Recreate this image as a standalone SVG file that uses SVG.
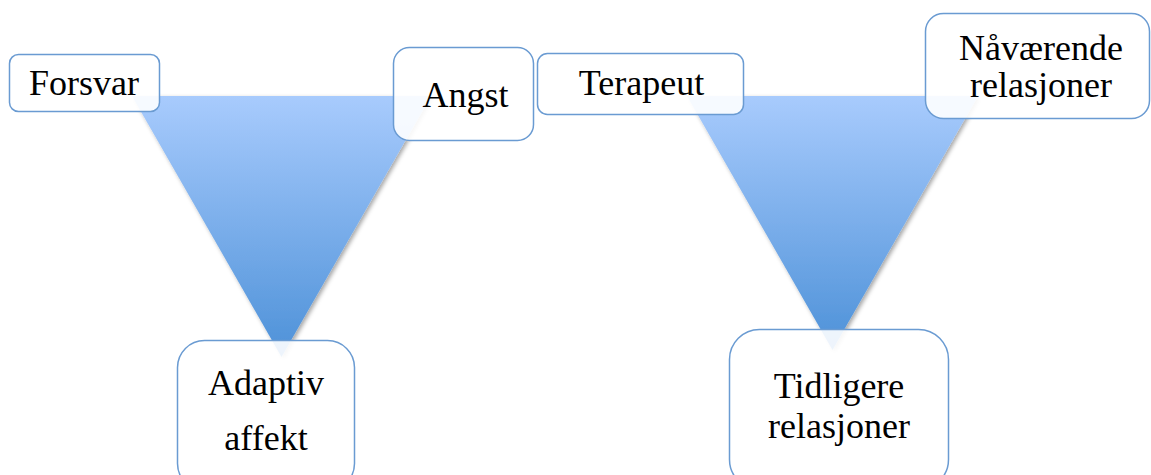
<svg xmlns="http://www.w3.org/2000/svg" width="1151" height="475" viewBox="0 0 1151 475">
  <defs>
    <linearGradient id="blueGrad" x1="0" y1="0" x2="0" y2="1">
      <stop offset="0" stop-color="#a8cbfd"/>
      <stop offset="1" stop-color="#4d91d8"/>
    </linearGradient>
    <filter id="shadow" x="-10%" y="-10%" width="120%" height="120%">
      <feDropShadow dx="2" dy="2" stdDeviation="2" flood-color="#000" flood-opacity="0.35"/>
    </filter>
  </defs>
  <style>
    .tri { fill: url(#blueGrad); filter: url(#shadow); }
    .box { fill: #ffffff; fill-opacity: 0.9; stroke: #6a9bd2; stroke-width: 1.5; }
    .lbl { font-size: 36px; fill: #000; text-anchor: middle; }
  </style>
  <rect width="1151" height="475" fill="#ffffff"/>

  <g id="connectors">
    <polygon class="tri" points="132,96 431,96 281.5,357"/>
    <polygon class="tri" points="687,96 978,96 832.5,350"/>
  </g>

  <g font-family="'Liberation Serif', 'DejaVu Serif', serif">
  <g id="node-forsvar">
    <rect class="box" x="9.5" y="54.5" width="150" height="57" rx="9"/>
    <text class="lbl" x="84" y="95">Forsvar</text>
  </g>
  <g id="node-angst">
    <rect class="box" x="393.5" y="47.5" width="140" height="93" rx="16"/>
    <text class="lbl" x="465.5" y="107">Angst</text>
  </g>
  <g id="node-adaptiv">
    <rect class="box" x="177.5" y="340.5" width="177" height="150" rx="27"/>
    <text class="lbl" x="266" y="395">Adaptiv</text>
    <text class="lbl" x="266" y="450">affekt</text>
  </g>
  <g id="node-terapeut">
    <rect class="box" x="537.5" y="53.5" width="206" height="61" rx="10"/>
    <text class="lbl" x="641.5" y="95">Terapeut</text>
  </g>
  <g id="node-navaerende">
    <rect class="box" x="925.5" y="13.5" width="224" height="105" rx="18"/>
    <text class="lbl" x="1041" y="60">Nåværende</text>
    <text class="lbl" x="1041" y="97">relasjoner</text>
  </g>
  <g id="node-tidligere">
    <rect class="box" x="729.5" y="329.5" width="219" height="160" rx="30"/>
    <text class="lbl" x="839" y="398">Tidligere</text>
    <text class="lbl" x="839" y="438">relasjoner</text>
  </g>
  </g>
</svg>
